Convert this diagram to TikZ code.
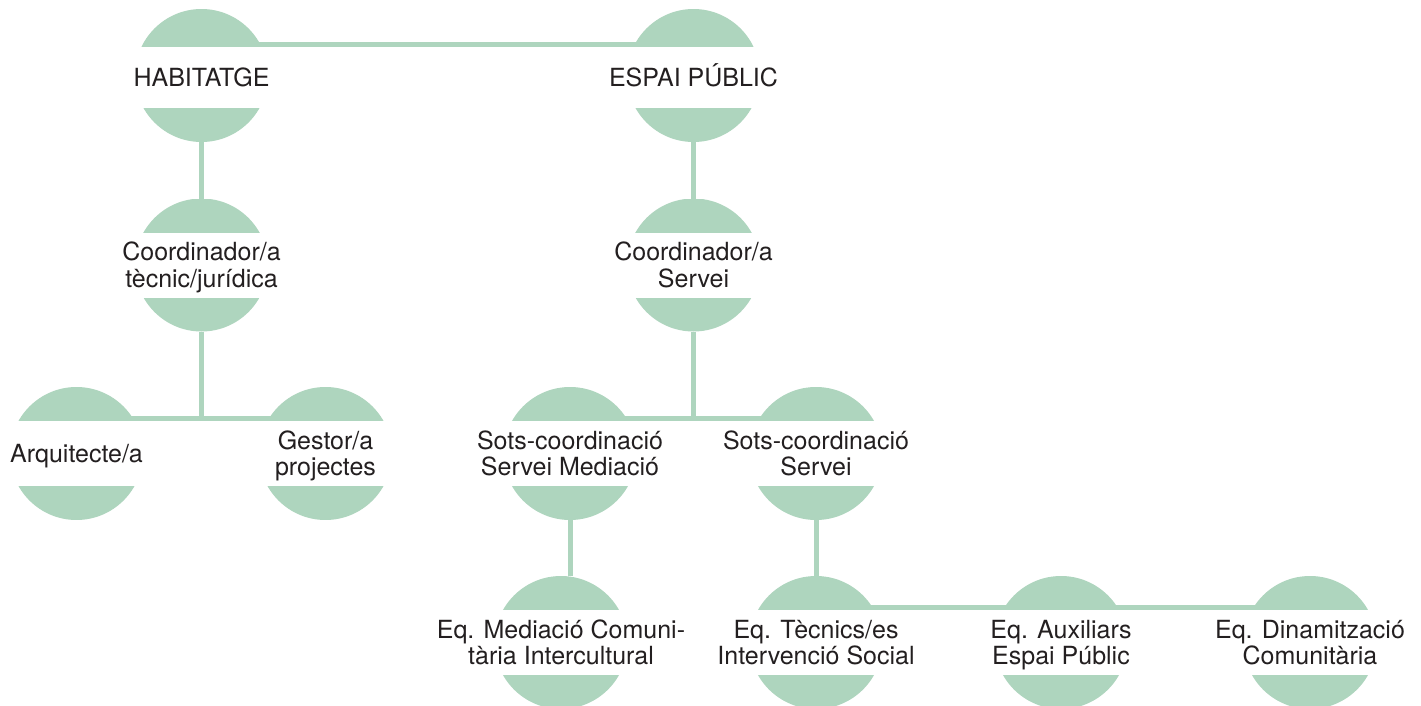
\documentclass[tikz,border=0pt]{standalone}
\usepackage{fontspec}
\setmainfont{TeX Gyre Heros}
\definecolor{capgreen}{RGB}{174,213,190}
\definecolor{txt}{RGB}{35,31,32}
\newcommand\sm[1]{\smash{#1}}
\def\captop{32.5pt}
\def\capbot{32.5pt}
\tikzset{
  orgcap/.style={circle, minimum size=133pt, inner sep=0pt, outer sep=0pt, fill=white,
    path picture={
      \fill[capgreen] (path picture bounding box.north west) rectangle ([yshift=\captop]path picture bounding box.east);
      \fill[capgreen] ([yshift=-\capbot]path picture bounding box.west) rectangle (path picture bounding box.south east);
    }},
  orgtext/.style={inner sep=0pt, outer sep=0pt, align=center, text=txt, font=\fontsize{25}{26.5}\selectfont},
  link/.style={draw=capgreen, line width=5pt}
}
\begin{document}
\begin{tikzpicture}[x=1pt, y=-1pt]
\useasboundingbox (0,0) rectangle (1421,706);
% caps
\begin{scope}
  \def\captop{28.5pt}
  \node[orgcap] (hab) at (201.5,75.5) {};
  \node[orgcap] (esp) at (693.5,75.5) {};
\end{scope}
\node[orgcap] (coa) at (201.5,265) {};
\node[orgcap] (cob) at (693.5,265) {};
\node[orgcap] (arq) at (76.5,453.5) {};
\node[orgcap] (ges) at (325.5,453.5) {};
\node[orgcap] (som) at (570,453.5) {};
\node[orgcap] (sos) at (816,453.5) {};
\node[orgcap] (eqm) at (561,642.5) {};
\node[orgcap] (eqt) at (816,642.5) {};
\node[orgcap] (eqa) at (1061,642.5) {};
\node[orgcap] (eqd) at (1310,642.5) {};
% connectors
\draw[link] ([yshift=31pt]hab.center) -- ([yshift=31pt]esp.center);
\draw[link] (hab.south) -- (coa.north);
\draw[link] (esp.south) -- (cob.north);
\coordinate (barl) at ([yshift=35pt]arq.center);
\draw[link] (barl) -- ([yshift=35pt]ges.center);
\draw[link] (coa.south) -- (coa.south |- barl);
\coordinate (barm) at ([yshift=35pt]som.center);
\draw[link] (barm) -- ([yshift=35pt]sos.center);
\draw[link] (cob.south) -- (cob.south |- barm);
\draw[link] (som.south) -- (som.south |- eqm.north);
\draw[link] (sos.south) -- (eqt.north);
\draw[link] ([yshift=35pt]eqt.center) -- ([yshift=35pt]eqd.center);
% texts
\node[orgtext] (hab-t) at ([yshift=-11pt]hab.center) {\sm{HABITATGE}};
\node[orgtext] (esp-t) at ([yshift=-11pt]esp.center) {\sm{ESPAI PÚBLIC}};
\node[orgtext] (coa-t) at ([yshift=-9pt]coa.center) {\sm{Coordinador/a}\\\sm{tècnic/jurídica}};
\node[orgtext] (cob-t) at ([yshift=-9pt]cob.center) {\sm{Coordinador/a}\\\sm{Servei}};
\node[orgtext] (arq-t) at ([yshift=-9pt]arq.center) {\sm{Arquitecte/a}};
\node[orgtext] (ges-t) at ([yshift=-9pt]ges.center) {\sm{Gestor/a}\\\sm{projectes}};
\node[orgtext] (som-t) at ([yshift=-9pt]som.center) {\sm{Sots-coordinació}\\\sm{Servei Mediació}};
\node[orgtext] (sos-t) at ([yshift=-9pt]sos.center) {\sm{Sots-coordinació}\\\sm{Servei}};
\node[orgtext] (eqm-t) at ([yshift=-9pt]eqm.center) {\sm{Eq. Mediació Comuni-}\\\sm{tària Intercultural}};
\node[orgtext] (eqt-t) at ([yshift=-9pt]eqt.center) {\sm{Eq. Tècnics/es}\\\sm{Intervenció Social}};
\node[orgtext] (eqa-t) at ([yshift=-9pt]eqa.center) {\sm{Eq. Auxiliars}\\\sm{Espai Públic}};
\node[orgtext] (eqd-t) at ([yshift=-9pt]eqd.center) {\sm{Eq. Dinamització}\\\sm{Comunitària}};
\end{tikzpicture}
\end{document}
